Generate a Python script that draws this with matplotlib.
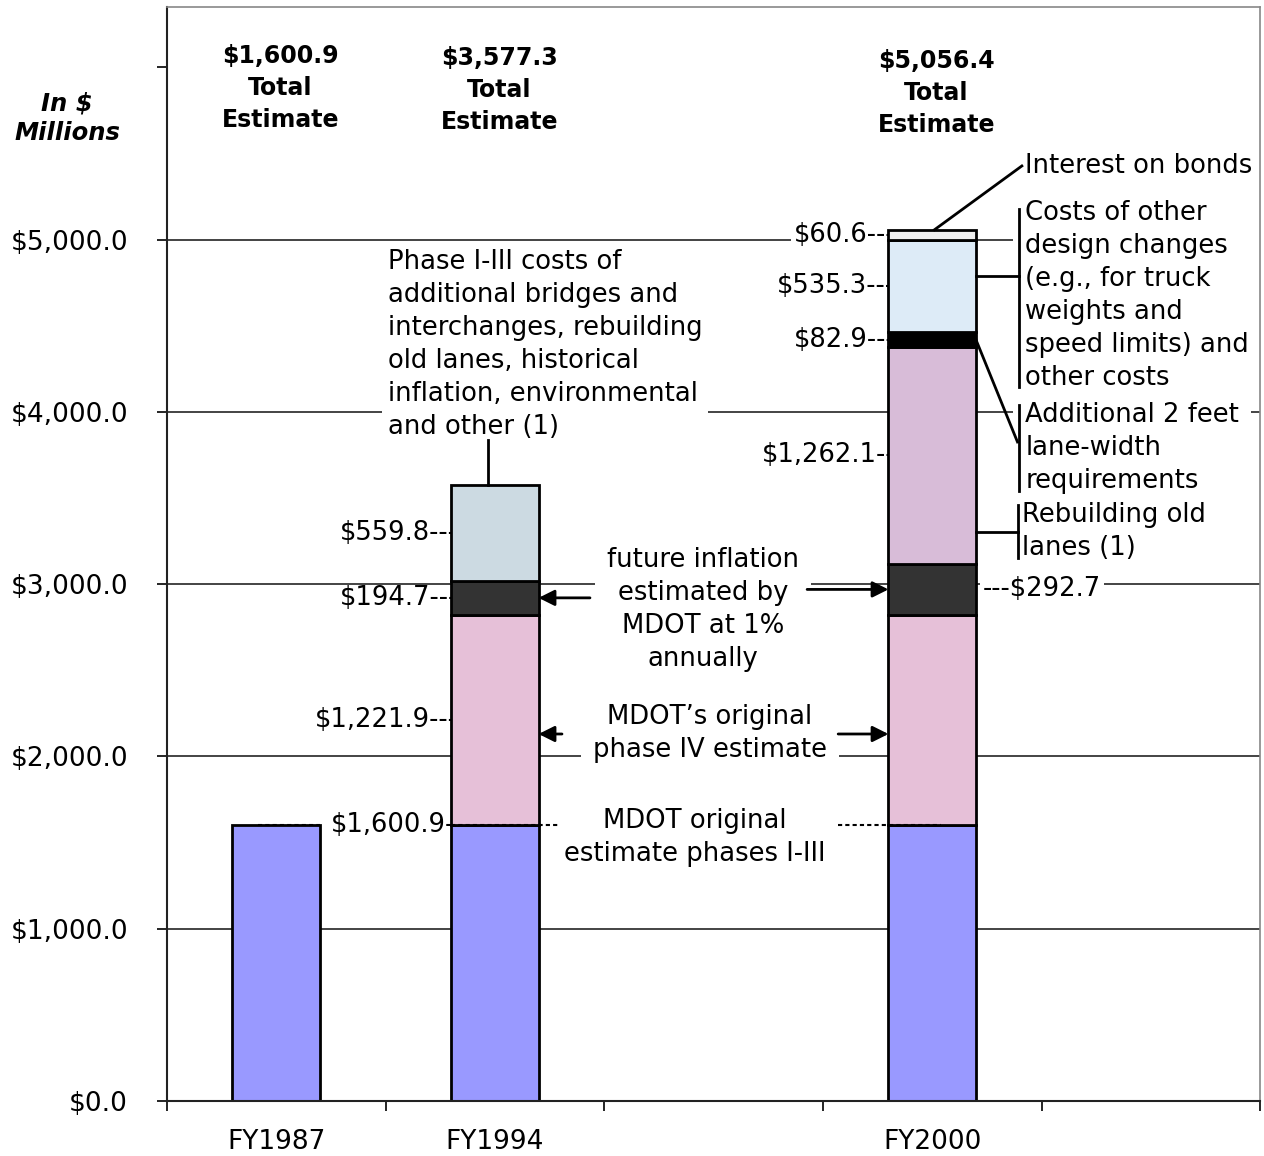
import matplotlib
matplotlib.use("Agg")
import matplotlib.pyplot as plt
import numpy as np

plt.rcParams["font.family"] = "DejaVu Sans"

categories = ["FY1987", "FY1994", "", "FY2000", ""]

# cost components in $ millions, bottom of the stack first
phase_1_3_original = [1600.9, 1600.9, 0.0, 1600.9, 0.0]
phase_4_original = [0.0, 1221.9, 0.0, 1221.9, 0.0]
future_inflation = [0.0, 194.7, 0.0, 292.7, 0.0]
phase_1_3_added = [0.0, 559.8, 0.0, 0.0, 0.0]
rebuilding_lanes = [0.0, 0.0, 0.0, 1262.1, 0.0]
lane_width = [0.0, 0.0, 0.0, 82.9, 0.0]
design_changes = [0.0, 0.0, 0.0, 535.3, 0.0]
bond_interest = [0.0, 0.0, 0.0, 60.6, 0.0]

ytick_values = [0, 1000, 2000, 3000, 4000, 5000, 6000]
ytick_labels = ["$0.0", "$1,000.0", "$2,000.0", "$3,000.0", "$4,000.0", "$5,000.0", ""]

series = [
    ("phase_1_3_original", phase_1_3_original, "#9999FF"),
    ("phase_4_original", phase_4_original, "#E6C0D8"),
    ("future_inflation", future_inflation, "#333333"),
    ("phase_1_3_added", phase_1_3_added, "#CCDAE2"),
    ("rebuilding_lanes", rebuilding_lanes, "#D8BCD8"),
    ("lane_width", lane_width, "#000000"),
    ("design_changes", design_changes, "#DDEBF7"),
    ("bond_interest", bond_interest, "#EEEEEE"),
]

FS = 18.6
LS = 1.35
WIDTH = 0.4

fig = plt.figure(figsize=(12.64, 11.56), dpi=100)
ax = fig.add_axes([0.132, 0.0476, 0.865, 0.9464])

x = np.arange(len(categories))
bottom = np.zeros(len(categories))
segments = {}
for name, values, color in series:
    values = np.asarray(values)
    idx = np.nonzero(values)[0]
    ax.bar(x[idx], values[idx], WIDTH, bottom=bottom[idx], color=color,
           edgecolor="black", linewidth=2, zorder=3.5)
    for i in idx:
        segments[(name, i)] = (bottom[i], values[i])
    bottom = bottom + values
totals = bottom

ax.set_xlim(-0.5, len(categories) - 0.5)
ax.set_ylim(0, 6350)

# axes frame
for side in ("top", "right"):
    ax.spines[side].set_color("#888888")
    ax.spines[side].set_linewidth(1.2)
for side in ("left", "bottom"):
    ax.spines[side].set_color("#222222")
    ax.spines[side].set_linewidth(1.5)
for sp in ax.spines.values():
    sp.set_zorder(5)

ax.set_yticks(ytick_values)
ax.set_yticklabels(ytick_labels, fontsize=19)
ax.tick_params(axis="y", length=7, width=1.2, pad=21)
ax.set_xticks(x)
ax.set_xticklabels(categories, fontsize=19)
ax.tick_params(axis="x", which="major", length=0, pad=20)
ax.set_xticks(np.arange(len(categories) + 1) - 0.5, minor=True)
ax.tick_params(axis="x", which="minor", length=7, width=1.2)
for yv in ytick_values[1:-1]:
    ax.axhline(yv, color="#111111", linewidth=1.1, zorder=0.5)

box = dict(facecolor="white", edgecolor="none", pad=2)
wide_box = dict(facecolor="white", edgecolor="none", pad=9)


def seg_mid(name, i):
    b, h = segments[(name, i)]
    return b + h / 2


# value labels beside the segments (white box only where a line runs behind)
left_labels = [
    ("phase_1_3_added", 1, "---", None),
    ("future_inflation", 1, "---", None),
    ("phase_4_original", 1, "---", None),
    ("bond_interest", 3, "---", box),
    ("design_changes", 3, "---", None),
    ("lane_width", 3, "---", None),
    ("rebuilding_lanes", 3, "--", None),
]
for name, i, dashes, bb in left_labels:
    v = segments[(name, i)][1]
    ax.text(i - WIDTH / 2 + 0.03, seg_mid(name, i), f"${v:,.1f}{dashes}",
            ha="right", va="center", fontsize=FS, bbox=bb, zorder=3)

v = segments[("future_inflation", 3)][1]
ax.text(3 + WIDTH / 2 + 0.03, seg_mid("future_inflation", 3), f"---${v:,.1f}",
        ha="left", va="center", fontsize=FS, bbox=box, zorder=3)

base = phase_1_3_original[1]
ax.text(1 - WIDTH / 2 + 0.02, base, f"${base:,.1f}-",
        ha="right", va="center", fontsize=FS, bbox=box, zorder=3)
ax.plot([-0.084, 0.2], [base, base], ls=(0, (2, 1.5)), color="black", lw=1.5, zorder=3.7)
ax.plot([0.8, 1.3], [base, base], ls=(0, (2, 1.5)), color="black", lw=1.5, zorder=3.7)
ax.plot([2.57, 3.04], [base, base], ls=(0, (2, 1.5)), color="black", lw=1.5, zorder=3.7)

# totals above the bars
title_y = {0: 5880, 1: 5868, 3: 5850}
for i, ty in title_y.items():
    ax.text(i + 0.02, ty, f"${totals[i]:,.1f}\nTotal\nEstimate", ha="center", va="center",
            fontsize=17, fontweight="bold", linespacing=1.42)

fig.text(67 / 1264, 1 - 118 / 1156, "In $\nMillions", ha="center", va="center",
         fontsize=17.5, fontweight="bold", fontstyle="italic", linespacing=1.3)

# FY1994 top segment callout
ax.text(0.511, 4390, "Phase I-III costs of\nadditional bridges and\ninterchanges, rebuilding\n"
        "old lanes, historical\ninflation, environmental\nand other (1)",
        ha="left", va="center", fontsize=FS, linespacing=LS,
        bbox=dict(facecolor="white", edgecolor="none", pad=4), zorder=3)
ax.plot([0.97, 0.97], [totals[1], 3837], color="black", lw=2, zorder=4)

# middle callouts with arrows to both bars
ax.text(1.952, 2850, "future inflation\nestimated by\nMDOT at 1%\nannually",
        ha="center", va="center", fontsize=FS, linespacing=LS, bbox=wide_box, zorder=3)
arrow = dict(arrowstyle="-|>", color="black", lw=2, mutation_scale=24, shrinkA=0, shrinkB=0)
ax.annotate("", xy=(1 + WIDTH / 2, seg_mid("future_inflation", 1)),
            xytext=(1.435, seg_mid("future_inflation", 1)), arrowprops=arrow, zorder=4)
ax.annotate("", xy=(3 - WIDTH / 2, seg_mid("future_inflation", 3)),
            xytext=(2.428, seg_mid("future_inflation", 3)), arrowprops=arrow, zorder=4)

ax.text(1.984, 2130, "MDOT\u2019s original\nphase IV estimate",
        ha="center", va="center", fontsize=FS, linespacing=LS, bbox=wide_box, zorder=3)
ax.annotate("", xy=(1 + WIDTH / 2, 2130), xytext=(1.307, 2130), arrowprops=arrow, zorder=4)
ax.annotate("", xy=(3 - WIDTH / 2, 2130), xytext=(2.57, 2130), arrowprops=arrow, zorder=4)

ax.text(1.915, 1532, "MDOT original\nestimate phases I-III",
        ha="center", va="center", fontsize=FS, linespacing=LS, bbox=wide_box, zorder=3)

# FY2000 callouts on the right
tx = 3.425
ax.text(tx, 5427, "Interest on bonds", ha="left", va="center", fontsize=FS,
        bbox=box, zorder=3)
ax.plot([3.01, 3.41], [totals[3], 5427], color="black", lw=2, zorder=4)

ax.text(tx, 4673, "Costs of other\ndesign changes\n(e.g., for truck\nweights and\n"
        "speed limits) and\nother costs", ha="left", va="center", fontsize=FS,
        linespacing=LS, bbox=wide_box, zorder=3)
ax.plot([3.398, 3.398], [4144, 5178], color="black", lw=2, zorder=4)
ax.plot([3 + WIDTH / 2, 3.398], [4790, 4790], color="black", lw=2, zorder=4)

ax.text(tx, 3790, "Additional 2 feet\nlane-width\nrequirements", ha="left", va="center",
        fontsize=FS, linespacing=LS, bbox=wide_box, zorder=3)
ax.plot([3.398, 3.398], [3541, 4040], color="black", lw=2, zorder=4)
ax.plot([3 + WIDTH / 2, 3.39], [seg_mid("lane_width", 3), 3825], color="black", lw=2, zorder=4)

ax.text(3.411, 3303, "Rebuilding old\nlanes (1)", ha="left", va="center",
        fontsize=FS, linespacing=LS, bbox=box, zorder=3)
ax.plot([3.393, 3.393], [3152, 3459], color="black", lw=2, zorder=4)
ax.plot([3 + WIDTH / 2, 3.393], [3303, 3303], color="black", lw=2, zorder=4)

fig.savefig("out.png", dpi=100)
